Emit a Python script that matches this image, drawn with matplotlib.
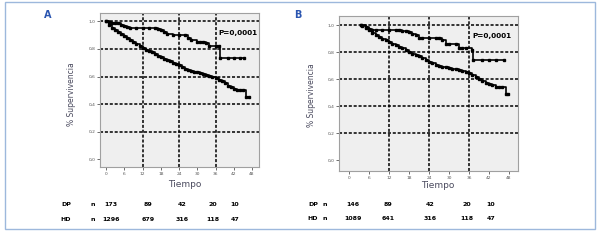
# -*- coding: utf-8 -*-
import matplotlib
matplotlib.use('Agg')
import matplotlib.pyplot as plt
from matplotlib.patches import Rectangle

# Panel A - Kaplan-Meier curves
a_dp_t = [0, 1, 2, 3, 4, 5, 6, 7, 8, 10, 12, 14, 16, 17, 18, 19, 20, 22, 24,
          26, 27, 28, 30, 31, 32, 33, 34, 36, 37, 37.5, 40, 42, 44, 45.5]
a_dp_s = [1.0, 0.995, 0.99, 0.99, 0.985, 0.975, 0.965, 0.96, 0.955, 0.955,
          0.955, 0.955, 0.955, 0.945, 0.935, 0.92, 0.91, 0.90, 0.90, 0.90,
          0.88, 0.865, 0.85, 0.85, 0.85, 0.84, 0.82, 0.82, 0.82, 0.735, 0.735,
          0.735, 0.735, 0.735]
a_hd_t = list(range(0, 48))
a_hd_s = [1.0, 0.97, 0.95, 0.935, 0.92, 0.905, 0.895, 0.88, 0.865, 0.85,
          0.835, 0.82, 0.81, 0.795, 0.785, 0.775, 0.765, 0.75, 0.74, 0.73,
          0.72, 0.71, 0.70, 0.69, 0.68, 0.67, 0.655, 0.65, 0.64, 0.635, 0.63,
          0.625, 0.62, 0.61, 0.605, 0.60, 0.59, 0.575, 0.565, 0.55, 0.535,
          0.525, 0.51, 0.50, 0.50, 0.50, 0.45, 0.45]

# Panel B
b_dp_t = [3.6, 5, 6, 7, 8, 10, 12, 14, 15, 16, 17, 18, 19, 20, 21, 22, 24,
          26, 27, 28, 29, 30, 32, 33, 34, 35, 36.8, 37.3, 40, 42, 44, 46.5]
b_dp_s = [1.0, 0.985, 0.975, 0.965, 0.965, 0.965, 0.965, 0.965, 0.965, 0.955,
          0.955, 0.95, 0.935, 0.93, 0.91, 0.91, 0.91, 0.91, 0.91, 0.89, 0.86,
          0.86, 0.86, 0.83, 0.83, 0.83, 0.82, 0.745, 0.745, 0.745, 0.745,
          0.745]
b_hd_t = [3.6] + list(range(4, 48)) + [47.8]
b_hd_s = [1.0, 0.995, 0.98, 0.965, 0.945, 0.93, 0.915, 0.90, 0.89, 0.88,
          0.865, 0.855, 0.84, 0.83, 0.815, 0.80, 0.79, 0.78, 0.77, 0.76,
          0.745, 0.73, 0.72, 0.71, 0.70, 0.695, 0.69, 0.685, 0.68, 0.675,
          0.67, 0.66, 0.655, 0.645, 0.63, 0.615, 0.60, 0.59, 0.575, 0.565,
          0.555, 0.545, 0.54, 0.54, 0.49, 0.49]

# numbers at risk
a_dp_n = ['173', '89', '42', '20', '10']
a_hd_n = ['1296', '679', '316', '118', '47']
b_dp_n = ['146', '89', '42', '20', '10']
b_hd_n = ['1089', '641', '316', '118', '47']

x_ticks = [0, 6, 12, 18, 24, 30, 36, 42, 48]
y_ticks = [0.0, 0.2, 0.4, 0.6, 0.8, 1.0]
y_labels = ['0,0', '0,2', '0,4', '0,6', '0,8', '1,0']

W, H = 600, 243
fig = plt.figure(figsize=(6, 2.43), dpi=100)


def px(x, y):
    return x / W, 1 - y / H


def panel(rect, xlim, ylim, curves, p_xy):
    ax = fig.add_axes(rect)
    ax.set_facecolor('#efefef')
    for sp in ax.spines.values():
        sp.set_color('#a0a0a0')
        sp.set_linewidth(0.8)
    for yv in [0.2, 0.4, 0.6, 0.8, 1.0]:
        ax.axhline(yv, color='black', lw=1.1, ls=(0, (2, 1.2)), zorder=1)
    for xv in [12, 24, 36]:
        ax.axvline(xv, color='black', lw=1.1, ls=(0, (2, 1.2)), zorder=1)
    for t, s in curves:
        ax.plot(t, s, drawstyle='steps-post', color='black', lw=1.2,
                zorder=3)
        ax.plot(t, s, ls='none', marker='s', ms=1.8, color='black',
                zorder=3)
    ax.set_xlim(*xlim)
    ax.set_ylim(*ylim)
    ax.set_xticks(x_ticks)
    ax.set_yticks(y_ticks)
    ax.set_yticklabels(y_labels)
    ax.tick_params(labelsize=3.2, colors='#555555', length=2, width=0.6,
                   pad=1.5)
    ax.text(p_xy[0], p_xy[1], 'P=0,0001', transform=ax.transAxes,
            ha='right', va='center', fontsize=5.2, fontweight='bold',
            zorder=4)
    return ax


panel([100 / W, 1 - 167 / H, 159 / W, 154 / H], (-2, 50.3), (-0.055, 1.06),
      [(a_dp_t, a_dp_s), (a_hd_t, a_hd_s)], (0.99, 0.872))
panel([339 / W, 1 - 171 / H, 179 / W, 155 / H], (-3, 50.7), (-0.08, 1.07),
      [(b_dp_t, b_dp_s), (b_hd_t, b_hd_s)], (0.965, 0.874))

lab_color = '#4a4a5e'
fig.text(*px(48, 15), 'A', color='#2a55b0', fontsize=7, fontweight='bold',
         ha='center', va='center')
fig.text(*px(298, 15), 'B', color='#2a55b0', fontsize=7, fontweight='bold',
         ha='center', va='center')
fig.text(*px(72, 94), '% Supervivencia', rotation=90, color=lab_color,
         fontsize=5.5, ha='center', va='center')
fig.text(*px(311, 95), '% Supervivencia', rotation=90, color=lab_color,
         fontsize=5.5, ha='center', va='center')
fig.text(*px(185, 184), 'Tiempo', color=lab_color, fontsize=6.5,
         ha='center', va='center')
fig.text(*px(438, 186), 'Tiempo', color=lab_color, fontsize=6.5,
         ha='center', va='center')


def risk_table(x_lab, x_n, xs, dp_vals, hd_vals, y_dp, y_hd):
    kw = dict(fontsize=4.5, fontweight='bold', ha='center', va='center')
    fig.text(*px(x_lab, y_dp), 'DP', **kw)
    fig.text(*px(x_lab, y_hd), 'HD', **kw)
    fig.text(*px(x_n, y_dp), 'n', **kw)
    fig.text(*px(x_n, y_hd), 'n', **kw)
    for x, d, h in zip(xs, dp_vals, hd_vals):
        fig.text(*px(x, y_dp), d, **kw)
        fig.text(*px(x, y_hd), h, **kw)


risk_table(66, 93, [111, 148, 182, 213, 235], a_dp_n, a_hd_n, 204, 219)
risk_table(313, 325, [353, 388, 430, 467, 491], b_dp_n, b_hd_n, 204, 218)

fig.patches.append(Rectangle(px(5, 229), 590 / W, 227 / H,
                             transform=fig.transFigure, fill=False,
                             edgecolor='#9db8dc', lw=1.0))

fig.savefig('out.png', dpi=100)
